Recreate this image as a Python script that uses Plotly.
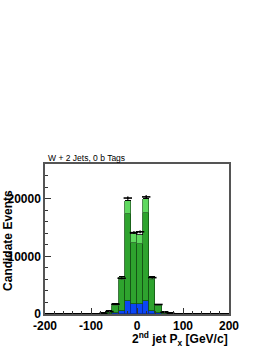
import numpy as np
import plotly.graph_objects as go

# 30 bins from -200 to 200
bin_edges = np.linspace(-200, 200, 31)
bin_centers = (bin_edges[:-1] + bin_edges[1:]) / 2
bin_width = bin_edges[1] - bin_edges[0]

# cumulative stack tops
blue_top = [0, 0, 0, 0, 0, 0, 0, 0, 0, 5, 30, 150, 600, 2200, 1750,
            1650, 2300, 600, 150, 30, 5, 0, 0, 0, 0, 0, 0, 0, 0, 0]
dark_top = [0, 0, 0, 0, 0, 2, 5, 10, 25, 80, 350, 1450, 5900, 17300, 12350,
            12150, 17550, 5900, 1400, 350, 80, 25, 10, 5, 2, 0, 0, 0, 0, 0]
light_top = [0, 0, 0, 0, 1, 3, 6, 12, 30, 110, 450, 1650, 6450, 19650, 13950,
             13700, 19900, 6450, 1600, 430, 100, 30, 12, 6, 3, 1, 0, 0, 0, 0]
white_top = [0, 0, 0, 0, 1, 3, 6, 12, 30, 110, 450, 1650, 6450, 19650, 14050,
             14200, 19900, 6450, 1600, 430, 100, 30, 12, 6, 3, 1, 0, 0, 0, 0]
data_vals = [2, 3, 4, 5, 6, 8, 10, 15, 35, 120, 420, 1700, 6200, 20100, 14100,
             14250, 20300, 6300, 1650, 300, 100, 35, 15, 10, 8, 6, 5, 4, 3, 2]

x_tickvals = [-200, -100, 0, 100, 200]
x_ticktext = ["-200", "-100", "0", "100", "200"]
y_tickvals = [0, 10000, 20000]
y_ticktext = ["0", "10000", "20000"]

title_text = "W + 2 Jets, 0 b Tags"
x_title = "2<sup>nd</sup> jet P<sub>x</sub> [GeV/c]"
y_title = "Candidate Events"

blue = np.array(blue_top, float)
dark = np.array(dark_top, float) - blue
light = np.array(light_top, float) - np.array(dark_top, float)
white = np.array(white_top, float) - np.array(light_top, float)

fig = go.Figure()
layers = [
    (blue, "#0b46f5", "#0a2a9a"),
    (dark, "#2ea32e", "#145214"),
    (light, "#5fd85f", "#2a6a2a"),
    (white, "#ffffff", "#000000"),
]
for vals, fill, edge in layers:
    fig.add_trace(go.Bar(
        x=bin_centers, y=vals, width=bin_width,
        marker=dict(color=fill, line=dict(color=edge, width=0.8)),
        showlegend=False,
    ))

fig.add_trace(go.Scatter(
    x=bin_centers, y=data_vals, mode="markers",
    marker=dict(symbol="line-ew", size=6, line=dict(color="black", width=1.6)),
    error_y=dict(type="data", array=np.sqrt(data_vals) * 2, color="black",
                 thickness=1.5, width=0),
    showlegend=False,
))

font = "Liberation Sans, Arial, sans-serif"
fig.update_layout(
    width=270, height=349,
    margin=dict(l=45, r=41, t=164, b=35),
    paper_bgcolor="white", plot_bgcolor="white",
    barmode="stack", bargap=0,
    showlegend=False,
    xaxis=dict(
        range=[-200, 200], showgrid=False, zeroline=False, automargin=False,
        showline=True, linecolor="#555555", linewidth=1.5, mirror=True,
        ticks="inside", ticklen=6, tickcolor="#333333", tickwidth=1,
        tickvals=x_tickvals, ticktext=x_ticktext,
        tickfont=dict(family=font, size=12, color="black", weight="bold"),
        minor=dict(ticks="inside", ticklen=3, dtick=20, tickcolor="#333333"),
    ),
    yaxis=dict(
        range=[0, 26000], showgrid=False, zeroline=False, automargin=False,
        showline=True, linecolor="#555555", linewidth=1.5, mirror=True,
        ticks="inside", ticklen=6, tickcolor="#333333", tickwidth=1,
        tickvals=y_tickvals, ticktext=y_ticktext,
        tickfont=dict(family=font, size=12, color="black", weight="bold"),
        minor=dict(ticks="inside", ticklen=3, dtick=2000, tickcolor="#333333"),
        ticklabelstandoff=0,
    ),
    annotations=[
        dict(text=title_text, xref="paper", yref="paper", x=0.005, y=1.043,
             xanchor="left", yanchor="middle", showarrow=False,
             font=dict(family=font, size=8.5, color="black")),
        dict(text=x_title, xref="paper", yref="paper", x=1.005, y=-0.167,
             xanchor="right", yanchor="middle", showarrow=False,
             font=dict(family=font, size=12, color="black", weight="bold")),
        dict(text=y_title, xref="paper", yref="paper", x=-0.204, y=0.49,
             xanchor="center", yanchor="middle", showarrow=False, textangle=-90,
             font=dict(family=font, size=12, color="black", weight="bold")),
    ],
)

fig.write_html("out.html", config={"displayModeBar": False},
               post_script="document.body.style.margin='0';")
